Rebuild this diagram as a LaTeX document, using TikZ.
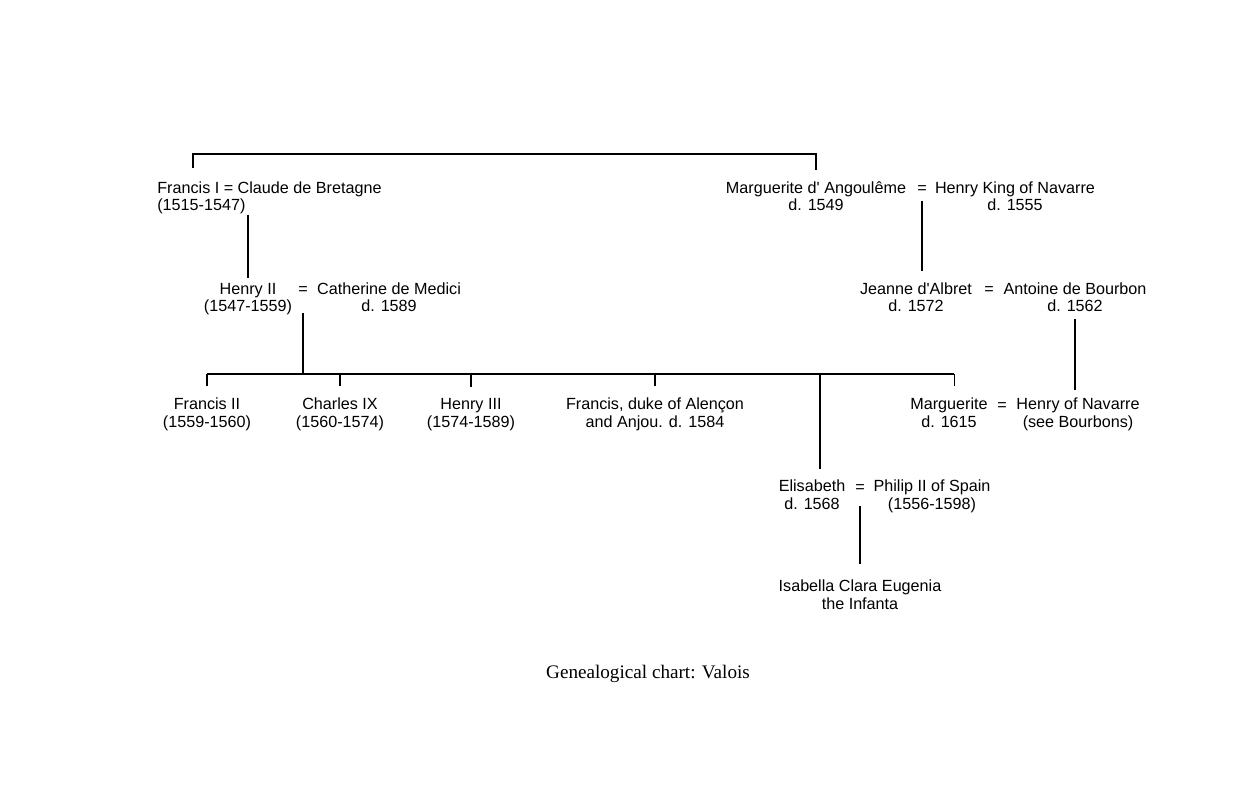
\documentclass[tikz,border=0pt]{standalone}
\usepackage{fontspec}
\setmainfont{Liberation Serif}
\setsansfont{Liberation Sans}
\usepackage{tikz}
\tikzset{
	person/.style={font=\sffamily\fontsize{9.2}{9.8}\selectfont, align=center, inner sep=0pt, anchor=base},
	wed/.style={font=\sffamily\fontsize{9.2}{9.8}\selectfont, inner sep=0pt, anchor=base},
	line/.style={line width=0.8pt}
}
\begin{document}
\begin{tikzpicture}[x=0.02cm,y=-0.02cm]
		\useasboundingbox (0,0) rectangle (1237,800);
		% first generation (base = second line)
		\node[person, anchor=base west, align=left] (francis) at (157,211) {Francis I = Claude de Bretagne\\(1515-1547)};
		\node[person] (angouleme) at (816,211) {Marguerite d\textquotesingle{} Angoulême\\d. 1549};
		\node[wed] (w2) at (922,194) {=};
		\node[person] (navarre) at (1015,211) {Henry King of Navarre\\d. 1555};
		
		\node[person] (henry2) at (248,312) {Henry II\\(1547-1559)};
		\node[wed] (w1) at (303,295) {=};
		\node[person] (catherine) at (389,312) {Catherine de Medici\\d. 1589};
		\node[person] (jeanne) at (916,312) {Jeanne d\textquotesingle Albret\\d. 1572};
		\node[wed] (w3) at (989,295) {=};
		\node[person] (antoine) at (1075,312) {Antoine de Bourbon\\d. 1562};
		
		% children of Henry II
		\node[person] (francis2) at (207,427) {Francis II\\(1559-1560)};
		\node[person] (charles9) at (340,427) {Charles IX\\(1560-1574)};
		\node[person] (henry3) at (471,427) {Henry III\\(1574-1589)};
		\node[person] (alencon) at (655,427) {Francis, duke of Alençon\\and Anjou. d. 1584};
		\node[person] (marguerite) at (949,427) {Marguerite\\d. 1615};
		\node[wed] (w4) at (1002,410) {=};
		\node[person] (henryN) at (1078,427) {Henry of Navarre\\(see Bourbons)};
		
		\node[person] (elisabeth) at (812,509) {Elisabeth\\d. 1568};
		\node[wed] (w5) at (860,492) {=};
		\node[person] (philip) at (932,509) {Philip II of Spain\\(1556-1598)};
		\node[person] (isabella) at (860,609) {Isabella Clara Eugenia\\the Infanta};
		
		\node[font=\fontsize{10.9}{12}\selectfont, inner sep=0pt, anchor=base] (caption) at (648,678) {Genealogical chart: Valois};
		
		\coordinate (valois) at (504,154);
		\coordinate (v1) at (193,168);
		\coordinate (v2) at (816,170);
		\coordinate (kids) at (303,374);
		
		\draw[line] (v1) |- (valois) -| (v2); % top bracket
		\draw[line] (henry2.north |- francis.south) -- ([yshift=3pt]henry2.north);
		\draw[line] ([yshift=-10pt]w1.south) -- (kids);
		\draw[line] (francis2.north |- kids) -- ([xshift=3pt]marguerite.north |- kids);
		\foreach \c in {francis2,charles9,henry3,alencon}
			\draw[line] (\c.north |- kids) -- ([yshift=6.5pt]\c.north);
		\draw[line] ([xshift=3pt]marguerite.north |- kids) -- ([shift={(3pt,6.5pt)}]marguerite.north);
		\draw[line] ([xshift=4.5pt]elisabeth.north |- kids) -- ([shift={(4.5pt,6pt)}]elisabeth.north);
		\draw[line] ([yshift=-4pt]w2.south) -- ([yshift=6.8pt]w2.south |- jeanne.north);
		\draw[line] ([yshift=-3.5pt]antoine.south) -- ([yshift=4.5pt]antoine.south |- henryN.north);
		\draw[line] ([yshift=-8pt]w5.south) -- ([yshift=9pt]w5.south |- isabella.north);
	\end{tikzpicture}
\end{document}
